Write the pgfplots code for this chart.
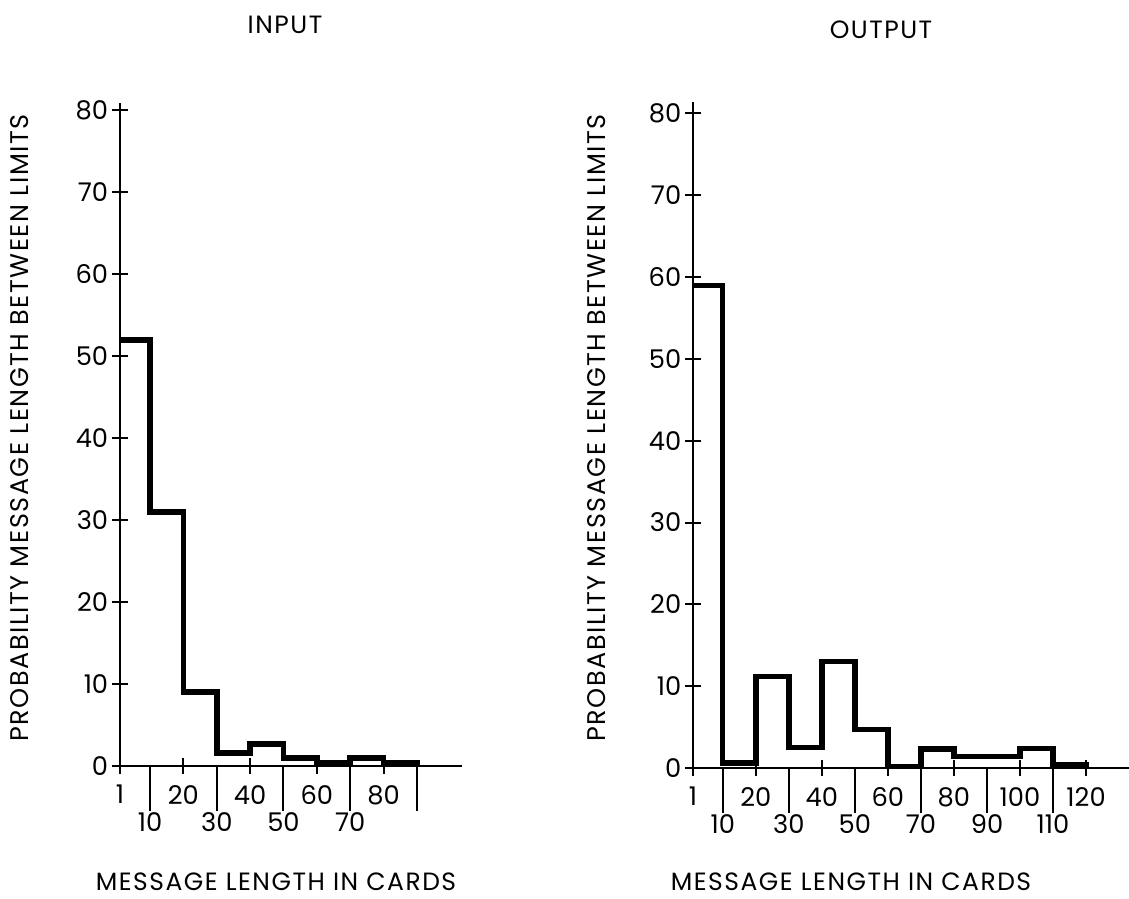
\documentclass[border=0pt]{standalone}
\usepackage{pgfplots}
\pgfplotsset{compat=1.18}
\usepackage{fontspec}
\setmainfont{Poppins}
\newfontfamily\lblfont[LetterSpace=6]{Poppins}
\begin{document}
\begin{tikzpicture}[x=0.4pt,y=0.4pt]
\useasboundingbox (0,0) rectangle (1129,899);
\pgfplotsset{
 hist/.style={
   scale only axis, axis x line=bottom, axis y line=left,
   axis line style={-, line width=1pt},
   clip=false, ymin=0, xmin=1, anchor=south west,
   ytick={0,10,...,80},
   tick style={line width=0.8pt, black},
   major tick length=6.4pt, tick align=center,
   /pgf/number format/assume math mode=true,
   tick label style={font=\fontsize{10.3}{12}\selectfont},
   yticklabel style={xshift=2pt},
   xticklabel style={yshift=-1pt},
   extra x tick style={tick align=outside, major tick length=18pt,
     xticklabel style={yshift=4pt}},
 }
}
% INPUT
\begin{axis}[hist, at={(48pt,53.2pt)}, width=136.8pt, height=265.2pt,
  xmax=103.5, ymax=80.9,
  xtick={1,20,40,60,80},
  extra x ticks={10,30,50,70,90},
  extra x tick labels={10,30,50,70,{}}]
\addplot[const plot, line width=2.2pt, black] coordinates {
 (1,52) (10,31) (20,9) (30,1.6) (40,2.7) (50,1.0) (60,0.4) (70,1.0) (80,0.4) (90,0.4) (90,0)};
\end{axis}
% OUTPUT
\begin{axis}[hist, at={(277.2pt,52.4pt)}, width=174.4pt, height=266.4pt,
  xmax=133, ymax=81.4,
  xtick={1,20,40,60,80,100,120},
  extra x ticks={10,30,50,70,90,110},
  extra x tick labels={10,30,50,70,90,110}]
\addplot[const plot, line width=2.2pt, black] coordinates {
 (1,59) (10,0.6) (20,11.2) (30,2.5) (40,13) (50,4.7) (60,0.2) (70,2.3) (80,1.4) (90,1.4) (100,2.4) (110,0.4) (120,0.4) (120,0)};
\end{axis}
\node[font=\lblfont\fontsize{10}{12}\selectfont] at (285,874) {INPUT};
\node[font=\lblfont\fontsize{10}{12}\selectfont] at (881,869) {OUTPUT};
\node[font=\lblfont\fontsize{10}{12}\selectfont] at (276,17) {MESSAGE LENGTH IN CARDS};
\node[font=\lblfont\fontsize{10}{12}\selectfont] at (851,17) {MESSAGE LENGTH IN CARDS};
\node[rotate=90, font=\lblfont\fontsize{10.2}{12}\selectfont] at (20,471) {PROBABILITY MESSAGE LENGTH BETWEEN LIMITS};
\node[rotate=90, font=\lblfont\fontsize{10.2}{12}\selectfont] at (597,471) {PROBABILITY MESSAGE LENGTH BETWEEN LIMITS};
\end{tikzpicture}
\end{document}
